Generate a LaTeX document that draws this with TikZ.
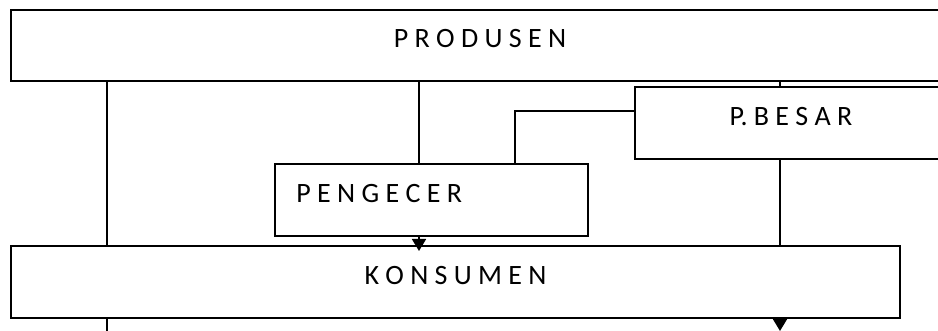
\documentclass[tikz,border=0pt]{standalone}
\usepackage{fontspec}
\setmainfont{Carlito}
\usetikzlibrary{arrows.meta}
\begin{document}
\begin{tikzpicture}[x=0.5pt,y=-0.5pt,
  box/.style={draw=black, line width=0.85pt, fill=white, inner sep=0pt, outer sep=0pt},
  lbl/.style={font=\fontsize{14pt}{16pt}\selectfont, inner sep=0pt},
  conn/.style={draw=black, line width=0.85pt},
  arr/.style={conn, -{Triangle[length=6pt,width=7pt]}}]
\useasboundingbox (0,0) rectangle (938,331);
\clip (0,0) rectangle (938,331);
% boxes
\node[box, minimum width=469pt, minimum height=35.5pt] (prod) at (480,45.5) {};
\node[box, minimum width=156pt, minimum height=36pt] (besar) at (791,123) {};
\node[box, minimum width=156.5pt, minimum height=36pt] (peng) at (431.5,200) {};
\node[box, minimum width=444.5pt, minimum height=36pt] (kons) at (455.5,282) {};
% texts
\node[lbl, anchor=base] (prodt) at (480,48) {P R O D U S E N};
\node[lbl, anchor=base] (besart) at (791,126) {P. B E S A R};
\node[lbl, anchor=base west] (pengt) at (296,203) {P E N G E C E R};
\node[lbl, anchor=base] (konst) at (455.5,285) {K O N S U M E N};
% guide coordinates
\coordinate (xa) at (107,0);
\coordinate (xb) at (419,0);
\coordinate (xc) at (515,0);
\coordinate (xd) at (780,0);
\coordinate (yb) at (0,111);
\coordinate (endA) at (107,340);
\coordinate (endB) at (780,331);
% connectors
\draw[conn] (prod.south -| xa) -- (kons.north -| xa);
\draw[conn] (prod.south -| xb) -- (peng.north -| xb);
\draw[conn] (prod.south -| xd) -- (besar.north -| xd);
\draw[conn] (besar.west |- yb) -| (peng.north -| xc);
\draw[conn] (besar.south -| xd) -- (kons.north -| xd);
\draw[arr, shorten >=-2.5pt] (peng.south -| xb) -- (kons.north -| xb);
\draw[conn] (kons.south -| xa) -- (endA);
\draw[arr] (kons.south -| xd) -- (endB);
\end{tikzpicture}
\end{document}
